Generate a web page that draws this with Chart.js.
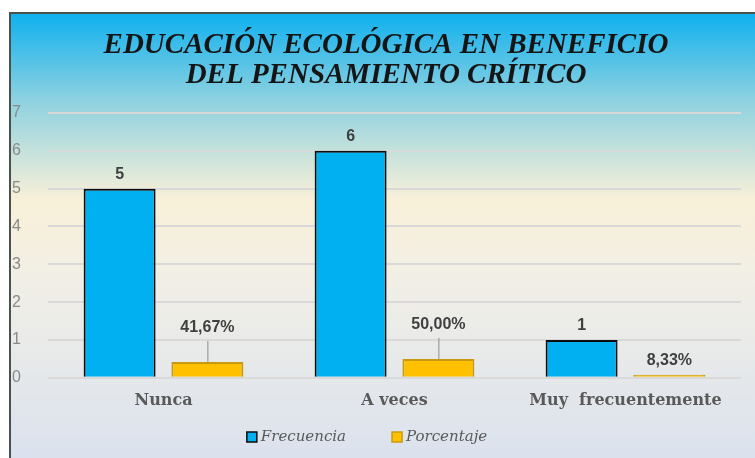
<!DOCTYPE html>
<html>
<head>
<meta charset="utf-8">
<script src="https://cdn.jsdelivr.net/npm/chart.js@4.4.1/dist/chart.umd.min.js"></script>
<style>
  html, body { margin: 0; padding: 0; background: #ffffff; }
  #wrap { width: 755px; height: 458px; }
</style>
</head>
<body>
<div id="wrap"><canvas id="grafico" width="755" height="458"></canvas></div>
<script>
// datos del grafico
const categorias = ['Nunca', 'A veces', 'Muy  frecuentemente'];
const frecuencia = [5, 6, 1];
const porcentaje = [0.4167, 0.5, 0.0833];
const ticksY = [0, 1, 2, 3, 4, 5, 6, 7];
const titulo = ['EDUCACIÓN ECOLÓGICA EN BENEFICIO', 'DEL PENSAMIENTO CRÍTICO'];

const fmtPct = v => (v * 100).toFixed(2).replace('.', ',') + '%';

// fondo degradado, marco y titulo
const fondo = {
    id: 'fondo',
    beforeDraw(chart) {
        const ctx = chart.ctx;
        const w = chart.width, h = chart.height;
        ctx.save();
        ctx.fillStyle = '#ffffff';
        ctx.fillRect(0, 0, w, h);
        const g = ctx.createLinearGradient(0, 12, 0, h);
        g.addColorStop(0, '#0db0ef');
        g.addColorStop(0.2, '#8fd2e0');
        g.addColorStop(0.42, '#f8f0d8');
        g.addColorStop(0.6, '#f1efe6');
        g.addColorStop(1, '#dbe2ee');
        ctx.fillStyle = g;
        ctx.fillRect(9, 12, w - 9, h - 12);
        ctx.strokeStyle = '#48534f';
        ctx.lineWidth = 2;
        ctx.beginPath();
        ctx.moveTo(10, h);
        ctx.lineTo(10, 13);
        ctx.lineTo(w, 13);
        ctx.stroke();
        ctx.fillStyle = '#151515';
        ctx.font = 'italic bold 29px "Liberation Serif"';
        ctx.textAlign = 'center';
        ctx.textBaseline = 'middle';
        ctx.fillText(titulo[0], 386, 46);
        ctx.fillText(titulo[1], 386, 76);
        ctx.restore();
    }
};

// etiquetas de valores y leyenda
const etiquetas = {
    id: 'etiquetas',
    afterDatasetsDraw(chart) {
        const ctx = chart.ctx;
        ctx.save();
        ctx.font = 'bold 16px "Liberation Sans"';
        ctx.fillStyle = '#404040';
        ctx.textAlign = 'center';
        ctx.textBaseline = 'middle';
        chart.data.datasets.forEach((ds, i) => {
            const meta = chart.getDatasetMeta(i);
            meta.data.forEach((bar, j) => {
                const v = ds.data[j];
                if (i === 0) {
                    ctx.fillText(String(v), bar.x, bar.y - 14);
                } else {
                    const alto = bar.base - bar.y;
                    if (alto > 8) {
                        const ty = bar.y - 34;
                        ctx.fillText(fmtPct(v), bar.x, ty);
                        ctx.strokeStyle = '#8c8c8c';
                        ctx.lineWidth = 1;
                        ctx.beginPath();
                        ctx.moveTo(bar.x + 0.5, ty + 13);
                        ctx.lineTo(bar.x + 0.5, bar.y);
                        ctx.stroke();
                    } else {
                        ctx.fillText(fmtPct(v), bar.x, bar.y - 14);
                    }
                }
            });
        });

        // leyenda
        ctx.font = 'italic 15px "DejaVu Serif"';
        ctx.textAlign = 'left';
        const gap = 46;
        const items = chart.data.datasets.map(ds => ({
            ds, w: 14 + ctx.measureText(ds.label).width
        }));
        const total = items.reduce((s, it) => s + it.w, 0) + gap * (items.length - 1);
        let x = 367 - total / 2;
        const y = 437;
        items.forEach(it => {
            ctx.fillStyle = it.ds.backgroundColor;
            ctx.fillRect(x, y - 5, 10, 10);
            ctx.strokeStyle = it.ds.borderColor;
            ctx.lineWidth = 1.5;
            ctx.strokeRect(x, y - 5, 10, 10);
            ctx.fillStyle = '#595959';
            ctx.fillText(it.ds.label, x + 14, y);
            x += it.w + gap;
        });
        ctx.restore();
    }
};

new Chart(document.getElementById('grafico'), {
    type: 'bar',
    data: {
        labels: categorias,
        datasets: [
            {
                label: 'Frecuencia',
                data: frecuencia,
                backgroundColor: '#00b0f0',
                borderColor: '#0d0d0d',
                borderWidth: 2,
                borderSkipped: 'bottom',
                categoryPercentage: 0.76,
                barPercentage: 0.82
            },
            {
                label: 'Porcentaje',
                data: porcentaje,
                backgroundColor: '#ffc000',
                borderColor: '#c99a10',
                borderWidth: 2,
                borderSkipped: 'bottom',
                categoryPercentage: 0.76,
                barPercentage: 0.82
            }
        ]
    },
    options: {
        responsive: false,
        animation: false,
        layout: { padding: { left: 10, right: 14, top: 113, bottom: 43 } },
        plugins: {
            title: { display: false },
            tooltip: { enabled: false },
            legend: { display: false }
        },
        scales: {
            x: {
                grid: { display: false },
                border: { display: false },
                ticks: {
                    padding: 5,
                    color: '#595959',
                    font: { family: '"DejaVu Serif"', weight: 'bold', size: 16 }
                }
            },
            y: {
                min: 0,
                max: 7,
                afterFit(scale) { scale.width = 38; },
                afterBuildTicks(scale) { scale.ticks = ticksY.map(v => ({ value: v })); },
                grid: { color: '#d9d9d9', lineWidth: 2, drawTicks: false },
                border: { display: false },
                ticks: {
                    padding: 27,
                    color: '#8a8a8a',
                    font: { family: '"Liberation Sans"', size: 16 }
                }
            }
        }
    },
    plugins: [fondo, etiquetas]
});
</script>
</body>
</html>
